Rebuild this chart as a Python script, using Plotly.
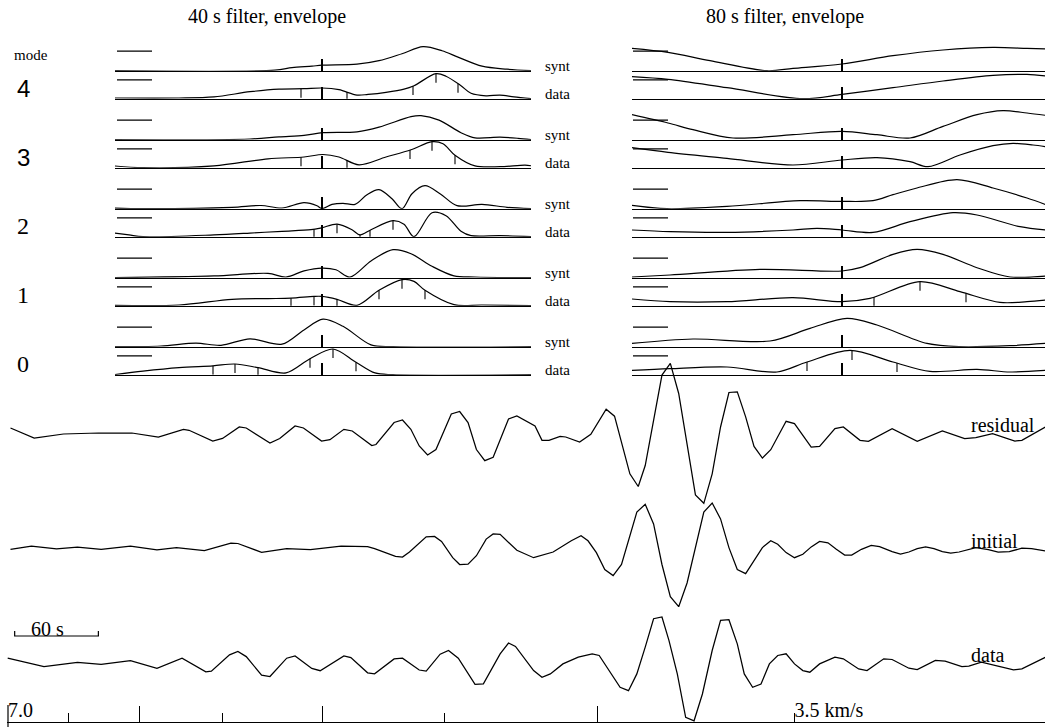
import numpy as np
import plotly.graph_objects as go

# =====================================================================
# DATA
# =====================================================================
# ---- bottom seismograms: time after first sample (s), amplitude (arb.)
T_FIRST = 563.5          # time of first sample after origin (s)
DIST_KM = 3946.0         # epicentral distance (km)
VEL_MAJOR = [7.0, 6.0, 5.0, 4.0]
VEL_MINOR = [6.5, 5.5, 4.5, 3.5]
VEL_LABEL_V = [7.0, 3.5]
VEL_LABEL_TXT = ["7.0", "3.5 km/s"]
SCALE_SECONDS = 60
SCALE_START = 5          # s after first sample

res_t = [2, 19, 40, 65, 89, 108, 126, 130, 147, 154, 166, 171, 188, 195, 206, 212, 225, 231, 241, 247,
         261, 264, 277, 283, 289, 295, 301, 307, 318, 324, 330, 336, 342, 348, 359, 365, 378, 383, 388, 396,
         400, 410, 418, 429, 435, 446, 452, 457, 469, 475, 481, 493, 499, 505, 511, 517, 523, 529, 535, 541,
         547, 558, 564, 576, 582, 593, 599, 611, 617, 634, 652, 670, 686, 694, 706, 722, 727, 744]
res_a = [5, -5, -1, 0, 0, -4, 3.5, 2.7, -8, -5.4, 6, 5, -10, -5.5, 7, 5, -8, -6.7, 3.7, 2,
         -12.5, -11.5, 10.5, 13, 3.7, -13, -22, -16.5, 19, 21.5, 10.5, -16.5, -27.7, -24.3, 14, 17, 7, -7.3, -7.3, -3.3,
         -4, -9, -1.3, 23.8, 16.8, -40.8, -53.5, -32.5, 57.9, 69.7, 39.5, -61.9, -70.3, -40.8, 6, 40.5, 41.2, 16.1, -13.4, -25.1,
         -16.7, 11.7, 9.4, -14, -13.4, 4.4, 6, -7.3, -8.4, 4.4, -8.4, 2, -5.7, -4.7, -0.7, -8, -7.3, 6]

ini_t = [2, 17, 35, 50, 67, 88, 107, 121, 141, 160, 165, 182, 200, 217, 239, 258, 263, 278, 283, 288,
         300, 306, 311, 319, 324, 330, 336, 343, 348, 353, 365, 377, 391, 404, 411, 416, 422, 428, 434, 440,
         451, 457, 463, 469, 475, 481, 487, 493, 499, 505, 511, 517, 523, 529, 535, 541, 547, 552, 558, 564,
         570, 576, 582, 588, 594, 600, 605, 612, 619, 625, 634, 640, 646, 652, 658, 664, 670, 676, 682, 689,
         694, 703, 710, 718, 727, 734, 744]
ini_a = [-0.3, 2.8, 0.1, 1.8, -0.3, 2.8, -0.9, 1.4, -1.6, 5.8, 5.5, -3.3, 0.4, -0.6, 2.8, 2.4, 0.4, -7.4, -8, -3,
         12.2, 12.6, 7.5, -8.7, -15.5, -15.1, -6.7, 9.9, 15, 14.6, -1.3, -8.7, -3, 8.2, 13.3, 8.2, -3.6, -20.5, -26.6, -15.5,
         36.9, 44.7, 25.1, -15.5, -47.6, -57.7, -34, 1.4, 36.9, 46, 30.1, 1.4, -20.5, -24.6, -12.1, 1.4, 8.2, 4.8, -3.6, -8.7,
         -5.3, 2.1, 7.5, 6.2, -0.3, -6, -6, -0.3, 3.5, 2.4, -2.6, -5, -3, 0.4, 2.1, 0.4, -2.6, -4, -3, -0.6,
         1.4, -0.6, -3, -2.6, 0.8, 0.4, -2]

dat_t = [0, 26, 50, 67, 88, 107, 125, 142, 146, 159, 165, 171, 182, 188, 200, 206, 218, 224, 241, 246,
         258, 263, 277, 283, 295, 300, 310, 316, 323, 335, 341, 353, 359, 364, 377, 383, 389, 398, 409, 419,
         424, 428, 439, 445, 451, 457, 463, 469, 474, 480, 486, 492, 498, 505, 511, 517, 523, 528, 534, 540,
         546, 552, 558, 564, 570, 575, 582, 593, 599, 610, 616, 628, 634, 646, 652, 665, 672, 684, 689, 698,
         708, 721, 727, 744]
dat_a = [3.8, -4.7, -0.3, -2.3, 1.4, -6.4, 3.8, -9.8, -9.1, 7.1, 10.5, 5.4, -13.1, -14.5, 3.8, 6.1, -6.4, -8.7, 6.1, 4.4,
         -10.8, -11.8, 3.1, 3.8, -8, -9.1, 7.8, 11.5, 3.8, -22.3, -21.9, 8.1, 19, 15.6, -8.6, -15.3, -11.9, -1.9, 4.8, 8.2,
         6.5, -1.9, -25.3, -28.7, -11.9, 14.9, 43.3, 45, 21.6, -11.9, -55.4, -58.8, -32, 11.5, 41.7, 42.3, 18.2, -11.9, -25.3, -22,
         -1.9, 6.5, 8.2, -1.9, -8.6, -10.2, -1.9, 4.8, 3.2, -6.9, -8.6, 3.2, 2.5, -6.2, -7.6, 1.5, 0.8, -4.5, -4.2, -0.2,
         -3.5, -7.9, -6.9, 4.8]

WAVE_NAMES = ["residual", "initial", "data"]

# ---- envelopes: time relative to predicted arrival (s), amplitude (arb.)
MODES = [4, 3, 2, 1, 0]
FILTERS = ["40 s filter, envelope", "80 s filter, envelope"]
SCALE_BAR_40 = [-205, -170]
SCALE_BAR_80 = [-209, -174]

# 40 s filter
e40_m4_synt_t = [-208, -47, -30, -10, 0, 35, 57, 80, 101, 120, 136, 160, 185, 210]
e40_m4_synt_a = [0, 0.5, 3, 4.5, 5.5, 6.5, 10, 17, 24, 20, 13.6, 4.5, 1.5, 0]
e40_m4_data_t = [-208, -143, -108, -72, -43, -18, 0, 17, 35, 46, 64, 82, 92, 114, 124, 139, 149, 164, 178, 192, 210]
e40_m4_data_a = [0.7, 0.7, 1.8, 7, 9.6, 10, 10.7, 9, 3.6, 4.3, 6.4, 9.6, 13, 25, 22.5, 13, 5.4, 2.9, 3.6, 1.8, 0]
e40_m4_ticks = [-21, 25, 91, 114, 136]

e40_m3_synt_t = [-208, -72, -43, -18, 1, 35, 57, 89, 99, 117, 139, 153, 178, 196, 210]
e40_m3_synt_a = [0, 0.7, 2.9, 4.3, 7, 7.9, 12.5, 23, 24, 19.6, 7, 1.8, 2.5, 1.4, 0]
e40_m3_data_t = [-208, -179, -108, -54, -18, 1, 17, 37, 64, 89, 110, 121, 133, 153, 178, 203, 210]
e40_m3_data_a = [1.8, 0, 1.8, 8.9, 10.7, 13.2, 10.7, 2.9, 10.7, 17.9, 26, 24, 12.5, 1.8, 1, 2.5, 1.8]
e40_m3_ticks = [-21, 25, 88, 110, 133]

e40_m2_synt_t = [-208, -179, -90, -61, -40, -18, -5, 0, 10, 21, 33, 45, 57, 70, 80, 90, 103, 118, 135, 160, 185, 210]
e40_m2_synt_a = [0.7, 0, 1.4, 3.2, 0.7, 6, 3, 0, 4.3, 5.4, 4.3, 14, 19, 10, 0, 15, 23, 15, 3, 4.3, 1.4, 0]
e40_m2_data_t = [-208, -193, -179, -108, -72, -40, -11, 0, 15, 30, 38, 49, 71, 82, 92, 110, 124, 139, 149, 178, 210]
e40_m2_data_a = [3.6, 1.8, 0, 1.8, 3.6, 5.4, 7, 9, 12.5, 7, 1.8, 7, 16, 12.5, 0, 24, 21, 5.4, 1, 1, 0]
e40_m2_ticks = [-8, 15, 38, 48, 71, 92]

e40_m1_synt_t = [-208, -108, -54, -36, -18, 0, 14, 28, 49, 71, 89, 110, 132, 153, 210]
e40_m1_synt_a = [0, 1.8, 4.3, 0.7, 6.8, 9.6, 7.9, 0.7, 16.8, 28, 24, 11.4, 1.8, 0.7, 0]
e40_m1_data_t = [-208, -143, -90, -54, -31, -8, 0, 15, 35, 57, 80, 92, 103, 132, 160, 210]
e40_m1_data_a = [0.4, 0.7, 6.4, 7.1, 7.5, 9.3, 9.3, 6.4, 0.4, 15.4, 26, 24.3, 15.4, 1, 0.7, 0]
e40_m1_ticks = [-31, -8, 15, 57, 80, 103]

e40_m0_synt_t = [-208, -161, -126, -101, -72, -40, -18, 1, 21, 49, 71, 210]
e40_m0_synt_a = [0, 0.7, 3.6, 1.4, 7.9, 2.5, 16.8, 27.5, 20.4, 1.8, 0, 0]
e40_m0_data_t = [-208, -179, -143, -109, -87, -64, -36, -12, 11, 34, 53, 71, 210]
e40_m0_data_a = [0, 3.6, 7.1, 8.9, 10.7, 7.1, 1.8, 16, 25.7, 12.5, 1.8, 0, 0]
e40_m0_ticks = [-109, -87, -64, -12, 11, 34]

# 80 s filter
e80_m4_synt_t = [-210, -174, -132, -75, -49, 0, 51, 101, 151, 185, 204]
e80_m4_synt_a = [22.3, 18.3, 10, 0, 2.3, 6.7, 15, 20.7, 23.3, 22.3, 21.7]
e80_m4_data_t = [-210, -174, -115, -39, 0, 51, 101, 151, 185, 204]
e80_m4_data_a = [22, 19.3, 11, 0, 4.3, 11, 17.7, 23.3, 24.3, 22.7]
e80_m4_ticks = []

e80_m3_synt_t = [-210, -174, -149, -109, -49, 0, 35, 68, 101, 135, 161, 185, 204]
e80_m3_synt_a = [25, 16.7, 10, 1.7, 5, 8.3, 5, 1.7, 13.3, 25, 29, 26.7, 24.3]
e80_m3_data_t = [-210, -174, -115, -49, 0, 35, 68, 86, 118, 151, 171, 191, 204]
e80_m3_data_a = [20, 15.3, 9.3, 2.7, 7.7, 10, 6, 1, 12.7, 22, 24.3, 22.7, 21]
e80_m3_ticks = []

e80_m2_synt_t = [-210, -175, -115, -42, 0, 31, 51, 75, 115, 151, 185, 204]
e80_m2_synt_a = [3.3, 0, 2.3, 8, 7.3, 8, 14, 20.7, 29, 20.7, 10.7, 4]
e80_m2_data_t = [-210, -172, -115, -49, -25, 0, 31, 68, 111, 135, 178, 204]
e80_m2_data_a = [6.7, 5, 4.3, 6.7, 8.3, 6.7, 4.3, 15, 24, 21.7, 10, 6.7]
e80_m2_ticks = []

e80_m1_synt_t = [-210, -172, -82, 0, 18, 51, 75, 101, 135, 168, 204]
e80_m1_synt_a = [0.7, 2.7, 8.3, 6.7, 10, 23.3, 28.3, 23.3, 10, 0.7, 1.7]
e80_m1_data_t = [-210, -172, -115, -49, 0, 28, 78, 118, 158, 185, 204]
e80_m1_data_a = [6.7, 4, 4, 8, 4, 7.3, 24, 14, 3.3, 4, 5.7]
e80_m1_ticks = [32, 78, 124]

e80_m0_synt_t = [-210, -149, -72, -32, 5, 35, 85, 118, 168, 204]
e80_m0_synt_a = [3.3, 7.7, 5.7, 18.3, 28.3, 21.7, 3.3, 0, 1, 3.3]
e80_m0_data_t = [-210, -172, -115, -65, -35, 8, 51, 88, 135, 168, 204]
e80_m0_data_a = [4.3, 6, 7.7, 2.7, 12.7, 24.3, 12.7, 3.3, 5.3, 2.7, 4.3]
e80_m0_ticks = [-35, 10, 55]

# lookup table built from the named lists above
G = globals()
ENV = {}
for f in ("40", "80"):
    for m in MODES:
        ENV[(f, m, "synt")] = (G[f"e{f}_m{m}_synt_t"], G[f"e{f}_m{m}_synt_a"], [])
        ENV[(f, m, "data")] = (G[f"e{f}_m{m}_data_t"], G[f"e{f}_m{m}_data_a"], G[f"e{f}_m{m}_ticks"])

# =====================================================================
# LAYOUT GEOMETRY (pixels of the 1045 x 727 page)
# =====================================================================
W, H = 1045, 727
SERIF = "Liberation Serif"
SANS = "Liberation Sans"
LINE = "black"

PX_PER_S = 1.395
WAVE_X0_PX = 7.7
WAVE_BASE = {"residual": 433, "initial": 549, "data": 662}
WAVE_HALF = {"residual": (75, 75), "initial": (75, 75), "data": (65, 75)}
AXIS_Y_PX = 722
VEL_AXIS_X0_PX = 7.0

PANEL_X = {"40": (115, 531, -207, 209), "80": (632, 1045, -210, 203)}
SYNT_BASE0 = 70.7
ROW_STEP = 69.0
DATA_OFFSET = 28.0
PANEL_H = 32.0
TICK_HANG = 9.0


def yp(py):
    return 1 - py / H


def xp(px):
    return px / W


fig = go.Figure()
lay = dict(width=W, height=H, margin=dict(l=0, r=0, t=0, b=0),
           paper_bgcolor="white", plot_bgcolor="rgba(0,0,0,0)",
           showlegend=False, font=dict(family=SERIF, color="black"),
           annotations=[])
axn = [0]


def add_axes(xdom, xr, ydom, yr, xextra=None):
    axn[0] += 1
    n = axn[0]
    s = "" if n == 1 else str(n)
    xa = dict(domain=xdom, range=xr, anchor="y" + s, visible=False,
              showgrid=False, zeroline=False, fixedrange=True)
    if xextra:
        xa.update(xextra)
    ya = dict(domain=ydom, range=yr, anchor="x" + s, visible=False,
              showgrid=False, zeroline=False, fixedrange=True)
    lay["xaxis" + s] = xa
    lay["yaxis" + s] = ya
    return "x" + s, "y" + s


# ---------------- envelope panels ----------------
for f in ("40", "80"):
    px0, px1, t0, t1 = PANEL_X[f]
    bar = SCALE_BAR_40 if f == "40" else SCALE_BAR_80
    for i, m in enumerate(MODES):
        for kind in ("synt", "data"):
            base = SYNT_BASE0 + i * ROW_STEP + (DATA_OFFSET if kind == "data" else 0)
            xextra = dict(visible=True, showline=True, linecolor=LINE, linewidth=1,
                          ticks="inside", tickvals=[0], ticklen=12,
                          tickwidth=1.8 if (kind == "data" and f == "40") else 1.1,
                          tickcolor=LINE, showticklabels=False)
            xr, yr = add_axes([xp(px0), xp(px1)], [t0, t1],
                              [yp(base), yp(base - PANEL_H)], [0, PANEL_H], xextra)
            t, a, ticks = ENV[(f, m, kind)]
            fig.add_trace(go.Scatter(x=t, y=a, mode="lines", xaxis=xr, yaxis=yr,
                                     line=dict(color=LINE, width=1.2, shape="spline", smoothing=0.9),
                                     hoverinfo="skip"))
            # amplitude scale bar
            lvl = 19.5 if kind == "synt" else 18.8
            fig.add_trace(go.Scatter(x=bar, y=[lvl, lvl], mode="lines", xaxis=xr, yaxis=yr,
                                     line=dict(color=LINE, width=1.2), hoverinfo="skip"))
            if ticks:
                tops = np.interp(ticks, t, a)
                xs, ys = [], []
                for tk, tp in zip(ticks, tops):
                    xs += [tk, tk, None]
                    ys += [tp, tp - TICK_HANG, None]
                fig.add_trace(go.Scatter(x=xs, y=ys, mode="lines", xaxis=xr, yaxis=yr,
                                         line=dict(color=LINE, width=1.1), hoverinfo="skip"))

# row labels
for i, m in enumerate(MODES):
    sb = SYNT_BASE0 + i * ROW_STEP
    db = sb + DATA_OFFSET
    lay["annotations"].append(dict(x=xp(543), y=yp(sb - 5), xref="paper", yref="paper",
                                   text="synt", showarrow=False, xanchor="left", yanchor="middle",
                                   font=dict(size=15, family=SERIF)))
    lay["annotations"].append(dict(x=xp(543), y=yp(db - 5), xref="paper", yref="paper",
                                   text="data", showarrow=False, xanchor="left", yanchor="middle",
                                   font=dict(size=15, family=SERIF)))
    lay["annotations"].append(dict(x=xp(23), y=yp(sb + 17.6), xref="paper", yref="paper",
                                   text=str(m), showarrow=False, xanchor="center", yanchor="middle",
                                   font=dict(size=24, family=SANS if m in (4, 3) else SERIF)))
lay["annotations"].append(dict(x=xp(30.5), y=yp(55), xref="paper", yref="paper", text="mode",
                               showarrow=False, xanchor="center", yanchor="middle",
                               font=dict(size=15, family=SERIF)))
lay["annotations"].append(dict(x=xp(267), y=yp(17), xref="paper", yref="paper", text=FILTERS[0],
                               showarrow=False, xanchor="center", yanchor="middle",
                               font=dict(size=20, family=SERIF)))
lay["annotations"].append(dict(x=xp(785), y=yp(17), xref="paper", yref="paper", text=FILTERS[1],
                               showarrow=False, xanchor="center", yanchor="middle",
                               font=dict(size=20, family=SERIF)))

# ---------------- seismograms ----------------
x_lo = T_FIRST - WAVE_X0_PX / PX_PER_S
x_hi = T_FIRST + (W - WAVE_X0_PX) / PX_PER_S
WAVES = {"residual": (res_t, res_a), "initial": (ini_t, ini_a), "data": (dat_t, dat_a)}
wave_axes = {}
for name in WAVE_NAMES:
    base = WAVE_BASE[name]
    lo, hi = WAVE_HALF[name]
    xr, yr = add_axes([0, 1], [x_lo, x_hi], [yp(base + lo), yp(base - hi)], [-lo, hi])
    wave_axes[name] = (xr, yr)
    t, a = WAVES[name]
    fig.add_trace(go.Scatter(x=[T_FIRST + v for v in t], y=a, mode="lines", xaxis=xr, yaxis=yr,
                             line=dict(color=LINE, width=1.25), hoverinfo="skip"))
    lay["annotations"].append(dict(x=T_FIRST + 689, y=8.5 if name != "data" else 7,
                                   xref=xr, yref=yr, text=name, showarrow=False,
                                   xanchor="left", yanchor="middle",
                                   font=dict(size=20, family=SERIF)))

# 60 s scale bar on the data seismogram axes
xr, yr = wave_axes["data"]
sb0 = T_FIRST + SCALE_START
fig.add_trace(go.Scatter(x=[sb0, sb0, sb0 + SCALE_SECONDS, sb0 + SCALE_SECONDS], y=[31, 26, 26, 31],
                         mode="lines", xaxis=xr, yaxis=yr, line=dict(color=LINE, width=1.2),
                         hoverinfo="skip"))
lay["annotations"].append(dict(x=sb0 + 10, y=33, xref=xr, yref=yr, text=f"{SCALE_SECONDS} s",
                               showarrow=False, xanchor="left", yanchor="middle",
                               font=dict(size=20, family=SERIF)))

# ---------------- group-velocity axis ----------------
v_lo = T_FIRST + (VEL_AXIS_X0_PX - WAVE_X0_PX) / PX_PER_S
vx = dict(visible=True, showline=True, linecolor=LINE, linewidth=1.2,
          anchor="free", position=yp(AXIS_Y_PX),
          ticks="inside", tickvals=[DIST_KM / v for v in VEL_MAJOR[1:]], ticklen=16, tickwidth=1.1,
          tickcolor=LINE, showticklabels=False,
          minor=dict(tickvals=[DIST_KM / v for v in VEL_MINOR], ticks="inside", ticklen=9,
                     tickwidth=1.1, tickcolor=LINE))
# y axis: 1 unit = 1 px, 0 on the axis line
xr, yr = add_axes([xp(VEL_AXIS_X0_PX), 1], [v_lo, x_hi], [0, yp(AXIS_Y_PX - 40)],
                  [-(H - AXIS_Y_PX), 40], vx)
# the end tick at the fastest velocity runs through the axis line
t_end = DIST_KM / VEL_MAJOR[0]
fig.add_trace(go.Scatter(x=[t_end, t_end], y=[-(H - AXIS_Y_PX), 17], mode="lines",
                         line=dict(color=LINE, width=1.2), xaxis=xr, yaxis=yr, hoverinfo="skip"))
fig.add_trace(go.Scatter(x=[DIST_KM / v for v in VEL_LABEL_V], y=[10, 10], mode="text",
                         text=VEL_LABEL_TXT, textposition="middle right",
                         textfont=dict(size=20, family=SERIF, color="black"),
                         xaxis=xr, yaxis=yr, hoverinfo="skip", cliponaxis=False))

fig.update_layout(**lay)
fig.write_html("out.html", config={"displayModeBar": False, "staticPlot": True},
               post_script="document.body.style.margin='0';document.body.style.padding='0';")
